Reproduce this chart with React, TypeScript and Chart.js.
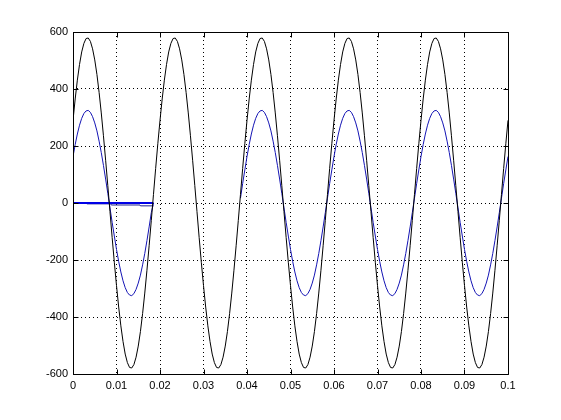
import React, { useEffect, useRef } from "react";
import { Chart, registerables } from "chart.js";

Chart.register(...registerables);

// Sampled every 0.0005 s from t = 0 to t = 0.1
const SAMPLE_STEP = 0.0005;

const blackWave = [
  290, 365, 431, 486, 530, 560, 577, 579, 567, 541, 502, 451, 388, 316, 236, 150, 61, -30, -121, -208,
  -290, -365, -431, -486, -530, -560, -577, -579, -567, -541, -502, -451, -388, -316, -236, -150, -61, 30, 121, 208,
  290, 365, 431, 486, 530, 560, 577, 579, 567, 541, 502, 451, 388, 316, 236, 150, 61, -30, -121, -208,
  -290, -365, -431, -486, -530, -560, -577, -579, -567, -541, -502, -451, -388, -316, -236, -150, -61, 30, 121, 208,
  290, 365, 431, 486, 530, 560, 577, 579, 567, 541, 502, 451, 388, 316, 236, 150, 61, -30, -121, -208,
  -290, -365, -431, -486, -530, -560, -577, -579, -567, -541, -502, -451, -388, -316, -236, -150, -61, 30, 121, 208,
  290, 365, 431, 486, 530, 560, 577, 579, 567, 541, 502, 451, 388, 316, 236, 150, 61, -30, -121, -208,
  -290, -365, -431, -486, -530, -560, -577, -579, -567, -541, -502, -451, -388, -316, -236, -150, -61, 30, 121, 208,
  290, 365, 431, 486, 530, 560, 577, 579, 567, 541, 502, 451, 388, 316, 236, 150, 61, -30, -121, -208,
  -290, -365, -431, -486, -530, -560, -577, -579, -567, -541, -502, -451, -388, -316, -236, -150, -61, 30, 121, 208,
  290,
];

const blueWave: (number | null)[] = [
  163, 205, 242, 273, 297, 314, 323, 325, 318, 303, 281, 253, 217, 177, 132, 84, 34, -17, -68, -116,
  -163, -205, -242, -273, -297, -314, -323, -325, -318, -303, -281, -253, -217, -177, -132, -84, -34, 0,
  null, null, null, null, null, null, null, null, null, null, null, null, null, null, null, null, null, null, null, null,
  null, null, null, null, null, null, null, null, null, null, null, null, null, null, null, null, null, null, null,
  17, 68, 116,
  163, 205, 242, 273, 297, 314, 323, 325, 318, 303, 281, 253, 217, 177, 132, 84, 34, -17, -68, -116,
  -163, -205, -242, -273, -297, -314, -323, -325, -318, -303, -281, -253, -217, -177, -132, -84, -34, 17, 68, 116,
  163, 205, 242, 273, 297, 314, 323, 325, 318, 303, 281, 253, 217, 177, 132, 84, 34, -17, -68, -116,
  -163, -205, -242, -273, -297, -314, -323, -325, -318, -303, -281, -253, -217, -177, -132, -84, -34, 17, 68, 116,
  163, 205, 242, 273, 297, 314, 323, 325, 318, 303, 281, 253, 217, 177, 132, 84, 34, -17, -68, -116,
  -163, -205, -242, -273, -297, -314, -323, -325, -318, -303, -281, -253, -217, -177, -132, -84, -34, 17, 68, 116,
  163,
];

const zeroLineT = [0, 0.0185];
const zeroLineY = [0, 0];

const offsetLineT = [0.0032, 0.0087, 0.0088, 0.0154, 0.0155, 0.0185];
const offsetLineY = [-3, -3, -7, -7, -10, -10];

const xTicks = [0, 0.01, 0.02, 0.03, 0.04, 0.05, 0.06, 0.07, 0.08, 0.09, 0.1];
const yTicks = [-600, -400, -200, 0, 200, 400, 600];

const toXY = (ts: number[], ys: (number | null)[]) => ts.map((t, i) => ({ x: t, y: ys[i] }));

const boxPlugin = {
  id: "matlabBox",
  afterDraw(chart: any) {
    const { ctx, chartArea, scales } = chart;
    const l = Math.round(chartArea.left) + 0.5;
    const r = Math.round(chartArea.right) + 0.5;
    const t = Math.round(chartArea.top) + 0.5;
    const b = Math.round(chartArea.bottom) + 0.5;
    ctx.save();
    ctx.strokeStyle = "#000";
    ctx.lineWidth = 1;
    ctx.setLineDash([]);
    ctx.beginPath();
    ctx.rect(l, t, r - l, b - t);
    const len = 5;
    xTicks.forEach((v) => {
      const px = Math.round(scales.x.getPixelForValue(v)) + 0.5;
      ctx.moveTo(px, b);
      ctx.lineTo(px, b - len);
      ctx.moveTo(px, t);
      ctx.lineTo(px, t + len);
    });
    yTicks.forEach((v) => {
      const py = Math.round(scales.y.getPixelForValue(v)) + 0.5;
      ctx.moveTo(l, py);
      ctx.lineTo(l + len, py);
      ctx.moveTo(r, py);
      ctx.lineTo(r - len, py);
    });
    ctx.stroke();
    ctx.restore();
  },
};

export default function App() {
  const ref = useRef<HTMLCanvasElement | null>(null);

  useEffect(() => {
    if (!ref.current) return;
    const time = blackWave.map((_, i) => i * SAMPLE_STEP);
    Chart.defaults.font.family = "'Liberation Sans', Arial, sans-serif";
    const chart = new Chart(ref.current, {
      type: "line",
      data: {
        datasets: [
          {
            data: toXY(time, blackWave),
            borderColor: "#000000",
            borderWidth: 1,
            pointRadius: 0,
            tension: 0,
          },
          {
            data: toXY(time, blueWave),
            borderColor: "#1414b4",
            borderWidth: 1,
            pointRadius: 0,
            tension: 0,
            spanGaps: false,
          },
          {
            data: toXY(zeroLineT, zeroLineY),
            borderColor: "#0000e6",
            borderWidth: 2,
            pointRadius: 0,
            tension: 0,
          },
          {
            data: toXY(offsetLineT, offsetLineY),
            borderColor: "#1a1a8c",
            borderWidth: 1,
            pointRadius: 0,
            tension: 0,
          },
        ],
      },
      options: {
        animation: false,
        responsive: false,
        maintainAspectRatio: false,
        layout: { padding: { left: 0, right: 53, top: 32, bottom: 0 } },
        plugins: { legend: { display: false }, tooltip: { enabled: false } },
        scales: {
          x: {
            type: "linear",
            min: 0,
            max: 0.1,
            afterBuildTicks: (scale: any) => {
              scale.ticks = xTicks.map((v) => ({ value: v }));
            },
            afterFit: (scale: any) => {
              scale.height = 46;
            },
            ticks: {
              color: "#000",
              font: { size: 11 },
              padding: 5,
              maxRotation: 0,
              autoSkip: false,
              callback: (v: any) => String(+Number(v).toFixed(2)),
            },
            grid: { color: "#000", lineWidth: 1, drawTicks: false },
            border: { display: false, dash: [1, 3] },
          },
          y: {
            type: "linear",
            min: -600,
            max: 600,
            afterBuildTicks: (scale: any) => {
              scale.ticks = yTicks.map((v) => ({ value: v }));
            },
            afterFit: (scale: any) => {
              scale.width = 73;
            },
            ticks: {
              color: "#000",
              font: { size: 11 },
              padding: 5,
              autoSkip: false,
            },
            grid: { color: "#000", lineWidth: 1, drawTicks: false },
            border: { display: false, dash: [1, 3] },
          },
        },
      },
      plugins: [boxPlugin],
    });
    return () => chart.destroy();
  }, []);

  return (
    <div style={{ position: "fixed", left: 0, top: 0, width: 561, height: 420, background: "#fff" }}>
      <canvas ref={ref} width={561} height={420} style={{ width: 561, height: 420 }} />
    </div>
  );
}
